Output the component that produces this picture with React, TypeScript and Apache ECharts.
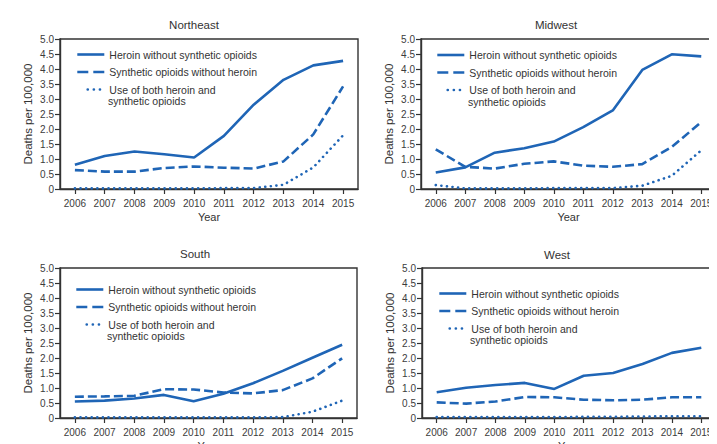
import React, { useEffect, useRef } from "react";
import * as echarts from "echarts";

const years = ["2006", "2007", "2008", "2009", "2010", "2011", "2012", "2013", "2014", "2015"];
const regions = ["Northeast", "Midwest", "South", "West"];
const seriesNames = [
  "Heroin without synthetic opioids",
  "Synthetic opioids without heroin",
  "Use of both heroin and synthetic opioids",
];

const northeastHeroin = [0.81, 1.1, 1.25, 1.16, 1.05, 1.77, 2.81, 3.64, 4.12, 4.27];
const northeastSynthetic = [0.63, 0.58, 0.58, 0.7, 0.75, 0.71, 0.68, 0.92, 1.82, 3.42];
const northeastBoth = [0.02, 0.02, 0.02, 0.02, 0.02, 0.03, 0.03, 0.14, 0.72, 1.79];

const midwestHeroin = [0.55, 0.72, 1.21, 1.36, 1.58, 2.06, 2.62, 3.97, 4.49, 4.42];
const midwestSynthetic = [1.32, 0.74, 0.68, 0.84, 0.92, 0.78, 0.74, 0.83, 1.4, 2.23];
const midwestBoth = [0.13, 0.02, 0.02, 0.02, 0.03, 0.03, 0.03, 0.11, 0.44, 1.29];

const southHeroin = [0.55, 0.58, 0.65, 0.77, 0.56, 0.81, 1.16, 1.57, 2.01, 2.44];
const southSynthetic = [0.71, 0.72, 0.74, 0.96, 0.95, 0.85, 0.82, 0.93, 1.32, 1.99];
const southBoth = [0.02, 0.02, 0.02, 0.02, 0.02, 0.02, 0.02, 0.03, 0.21, 0.58];

const westHeroin = [0.86, 1.01, 1.1, 1.17, 0.97, 1.41, 1.5, 1.8, 2.17, 2.34];
const westSynthetic = [0.52, 0.48, 0.55, 0.7, 0.69, 0.61, 0.59, 0.61, 0.69, 0.69];
const westBoth = [0.03, 0.03, 0.03, 0.03, 0.03, 0.04, 0.04, 0.05, 0.06, 0.06];

const regionData = [
  [northeastHeroin, northeastSynthetic, northeastBoth],
  [midwestHeroin, midwestSynthetic, midwestBoth],
  [southHeroin, southSynthetic, southBoth],
  [westHeroin, westSynthetic, westBoth],
];

const yMin = 0;
const yMax = 5;
const yInterval = 0.5;

// layout
const grids = [
  { left: 52, top: 31, width: 298, height: 150 },
  { left: 413, top: 31, width: 295, height: 150 },
  { left: 52, top: 260, width: 297, height: 150 },
  { left: 414, top: 260, width: 294, height: 150 },
];
const titlePos = [
  { x: 186, y: 17 },
  { x: 548, y: 17 },
  { x: 187, y: 246 },
  { x: 549, y: 247 },
];
const legendPos = [
  { left: 68, top: 40 },
  { left: 428, top: 40.5 },
  { left: 67, top: 275 },
  { left: 430, top: 279 },
];

const BLUE = "#1f65b6";
const DARK = "#333333";
const LABEL = "#3c3c3c";
const FONT = "'Liberation Sans', Arial, sans-serif";
const LEG_W = 27;
const LEG_H = 10;
const LEG_LH = 13;
const LEG_GAP = 4.5;
const LEG_FS = 10.5;

const lineTypes: any[] = ["solid", [9, 4], [0.1, 5.5]];
const legendLineTypes: any[] = ["solid", [11, 5], [0.1, 6, 0.1, 6, 0.1, 20.1]];

export default function App() {
  const ref = useRef<HTMLDivElement>(null);

  useEffect(() => {
    if (!ref.current) return;
    const chart = echarts.init(ref.current, null, { renderer: "svg" });

    const series: any[] = [];
    regionData.forEach((arrs, gi) => {
      arrs.forEach((vals, si) => {
        series.push({
          name: seriesNames[si],
          type: "line",
          xAxisIndex: gi,
          yAxisIndex: gi,
          data: vals,
          symbol: "none",
          showSymbol: false,
          lineStyle: {
            color: BLUE,
            width: 2.6,
            type: lineTypes[si],
            cap: si === 2 ? "round" : "butt",
          },
          itemStyle: { color: BLUE },
          z: 3,
        });
      });
    });

    const graphics: any[] = [];
    regions.forEach((r, i) => {
      graphics.push({
        type: "text",
        x: titlePos[i].x,
        y: titlePos[i].y,
        style: {
          text: r,
          fontFamily: FONT,
          fontSize: 11.5,
          fill: "#333",
          align: "center",
          verticalAlign: "middle",
        },
      });
    });
    legendPos.forEach((p) => {
      graphics.push({
        type: "text",
        x: p.left + LEG_W + 5,
        y: p.top + LEG_H / 2 + 2 * (LEG_LH + LEG_GAP) + LEG_LH,
        style: {
          text: "synthetic opioids",
          fontFamily: FONT,
          fontSize: LEG_FS,
          fill: "#333",
          verticalAlign: "middle",
          align: "left",
        },
      });
    });

    const option: any = {
      animation: false,
      backgroundColor: "#ffffff",
      grid: grids.map((g) => ({
        ...g,
        show: true,
        borderColor: DARK,
        borderWidth: 1.4,
        backgroundColor: "transparent",
        containLabel: false,
      })),
      legend: legendPos.map((p) => ({
        left: p.left,
        top: p.top,
        orient: "vertical",
        padding: 0,
        itemWidth: LEG_W,
        itemHeight: LEG_H,
        itemGap: LEG_GAP,
        selectedMode: false,
        textStyle: { fontFamily: FONT, fontSize: LEG_FS, color: "#333", lineHeight: LEG_LH },
        formatter: (name: string) =>
          name === seriesNames[2] ? "Use of both heroin and" : name,
        data: seriesNames.map((n, si) => ({
          name: n,
          itemStyle: { opacity: 0, color: "rgba(0,0,0,0)", borderWidth: 0 },
          lineStyle: {
            color: BLUE,
            width: 2.6,
            type: legendLineTypes[si],
            dashOffset: si === 2 ? 22.3 : 0,
            cap: si === 2 ? "round" : "butt",
          },
        })),
      })),
      xAxis: grids.map((_, i) => ({
        type: "category",
        gridIndex: i,
        data: years,
        boundaryGap: true,
        name: "Year",
        nameLocation: "middle",
        nameGap: 22,
        nameMoveOverlap: false,
        nameTextStyle: { fontFamily: FONT, fontSize: 11, color: "#333" },
        axisLine: { show: true, lineStyle: { color: DARK, width: 1.4 } },
        axisTick: { show: true, alignWithLabel: true, interval: 0, length: 5, lineStyle: { color: DARK, width: 1.2 } },
        axisLabel: { fontFamily: FONT, fontSize: 10, color: LABEL, margin: 9, interval: 0 },
        splitLine: { show: false },
      })),
      yAxis: grids.map((_, i) => ({
        type: "value",
        gridIndex: i,
        min: yMin,
        max: yMax,
        interval: yInterval,
        name: "Deaths per 100,000",
        nameLocation: "middle",
        nameGap: 26,
        nameRotate: 90,
        nameMoveOverlap: false,
        nameTextStyle: { fontFamily: FONT, fontSize: 11.5, color: "#333" },
        axisLine: { show: true, lineStyle: { color: DARK, width: 1.4 } },
        axisTick: { show: true, length: 5, lineStyle: { color: DARK, width: 1.2 } },
        axisLabel: {
          fontFamily: FONT,
          fontSize: 10,
          color: LABEL,
          margin: 6,
          formatter: (v: number) => (v === 0 ? "0" : v.toFixed(1)),
        },
        splitLine: { show: false },
      })),
      graphic: graphics,
      series,
    };

    chart.setOption(option);
    return () => chart.dispose();
  }, []);

  return <div ref={ref} style={{ width: 717, height: 444 }} />;
}
